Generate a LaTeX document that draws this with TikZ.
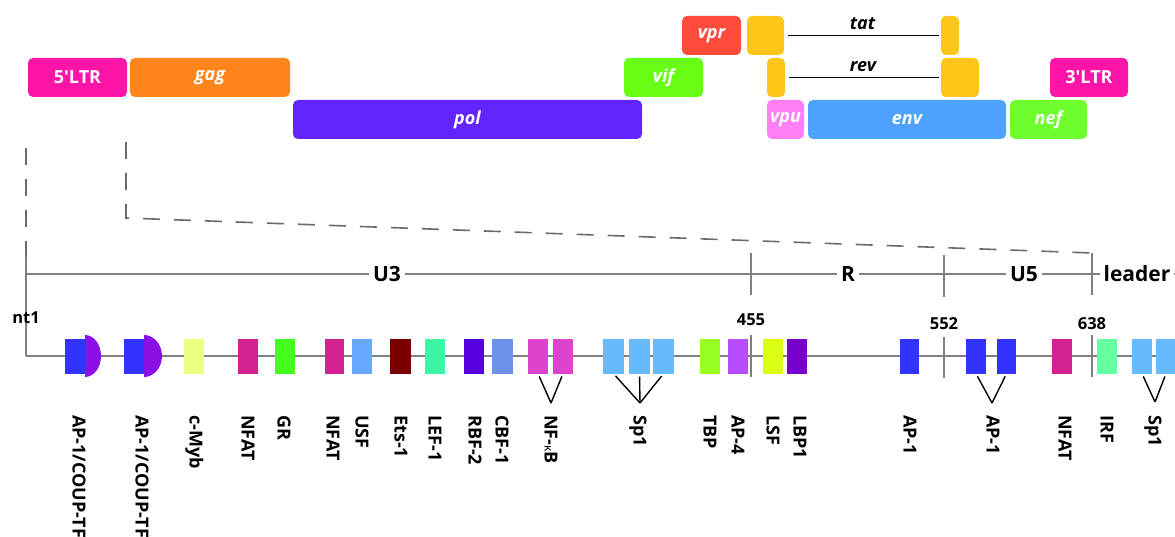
\documentclass[tikz,border=0pt]{standalone}
\usepackage{fontspec}
\setmainfont{Open Sans}
\definecolor{cLTR}{HTML}{FF14A8}
\definecolor{cgag}{HTML}{FF8419}
\definecolor{cpol}{HTML}{6325FF}
\definecolor{cvif}{HTML}{66FF13}
\definecolor{cvpr}{HTML}{FF4B3A}
\definecolor{cyel}{HTML}{FFC61A}
\definecolor{cvpu}{HTML}{FF80F5}
\definecolor{cenv}{HTML}{4DA3FF}
\definecolor{cnef}{HTML}{70FF2E}
\definecolor{cgray}{HTML}{808080}
\definecolor{cdash}{HTML}{6A6A6A}
\definecolor{tAP}{HTML}{3333FF}
\definecolor{tAPp}{HTML}{8A10E6}
\definecolor{tMyb}{HTML}{EBFF80}
\definecolor{tNFAT}{HTML}{D3228F}
\definecolor{tGR}{HTML}{44FF1A}
\definecolor{tUSF}{HTML}{66A8FF}
\definecolor{tEts}{HTML}{7A0000}
\definecolor{tLEF}{HTML}{3DF5A3}
\definecolor{tRBF}{HTML}{5500DD}
\definecolor{tCBF}{HTML}{6B91E8}
\definecolor{tNFkB}{HTML}{DD44CC}
\definecolor{tSp}{HTML}{66BBFF}
\definecolor{tTBP}{HTML}{99FF22}
\definecolor{tAPf}{HTML}{B74DFF}
\definecolor{tLSF}{HTML}{DDFF11}
\definecolor{tLBP}{HTML}{7700CC}
\definecolor{tIRF}{HTML}{66FFA0}
\newcommand\genefont{\fontsize{18}{20}\selectfont\bfseries\itshape}
\newcommand\ltrfont{\fontsize{18}{20}\selectfont\bfseries\upshape}
\newcommand\gbox[7]{\node[gene, fill=#6, minimum width={(#4)-(#2)}, minimum height={(#5)-(#3)}] (#1) at ({((#2)+(#4))/2},{((#3)+(#5))/2}) {#7};}
\newcommand\tfb[4]{\node[tf, fill=#4, minimum width={(#3)-(#2)}] (#1) at ({((#2)+(#3))/2},356) {};}
\newcommand\tfl[3]{\node[tflabel] (#1) at (#2,415) {#3};}
\begin{document}
\begin{tikzpicture}[x=1pt,y=-1pt,
  gene/.style={rounded corners=5pt, inner sep=0pt, text=white, font=\genefont},
  tf/.style={inner sep=0pt, minimum height=35pt},
  tflabel/.style={rotate=-90, anchor=west, inner sep=0pt, text height=12.9pt, text depth=0pt, font=\fontsize{18}{18}\selectfont\bfseries},
  axis/.style={cgray, line width=2pt},
  tick/.style={cgray, line width=1.8pt},
  dashline/.style={cdash, line width=1.6pt, dash pattern=on 17pt off 14pt},
  seg/.style={font=\fontsize{21}{21}\selectfont\bfseries, fill=white, inner sep=4pt},
  num/.style={font=\fontsize{16.5}{17}\selectfont\bfseries, inner sep=0pt},
  vline/.style={black, line width=1.4pt, shorten <=3pt},
  splice/.style={black, line width=1.4pt, shorten <=4pt, shorten >=2pt}
]
\useasboundingbox (0,0) rectangle (1175,537);

% ---------- genome ----------
\gbox{ltr5}{28}{58}{127}{97}{cLTR}{\ltrfont 5\textquotesingle LTR}
\gbox{gag}{130}{58}{290}{97}{cgag}{gag}
\gbox{pol}{293}{100}{642}{139}{cpol}{pol}
\gbox{vif}{624}{58}{703}{97}{cvif}{vif}
\gbox{vpr}{682}{16}{741}{55}{cvpr}{vpr}
\gbox{tatA}{747}{16}{784}{55}{cyel}{}
\gbox{tatB}{941}{16}{959}{55}{cyel}{}
\gbox{revA}{767}{58}{785}{97}{cyel}{}
\gbox{revB}{941}{58}{979}{97}{cyel}{}
\gbox{ltr3}{1050}{58}{1128}{97}{cLTR}{\ltrfont 3\textquotesingle LTR}
\gbox{vpu}{767}{100}{804}{139}{cvpu}{vpu}
\gbox{env}{808}{100}{1006}{139}{cenv}{env}
\gbox{nef}{1010}{100}{1087}{139}{cnef}{nef}
\draw[splice] (tatA.east) -- node[above=2pt, font=\genefont, text=black] (tatlbl) {tat} (tatB.west);
\draw[splice] (revA.east) -- node[above=2pt, font=\genefont, text=black] (revlbl) {rev} (revB.west);

% ---------- zoom lines ----------
\coordinate (d1a) at (26,148);
\coordinate (d1b) at (26,257);
\coordinate (d2a) at (126,142);
\coordinate (d2b) at (126,218);
\coordinate (d2c) at (1092,253);
\draw[dashline] (d1a) -- (d1b);
\draw[dashline] (d2a) -- (d2b) -- (d2c);

% ---------- LTR segment axis ----------
\coordinate (ax0) at (26,274);
\coordinate (ax1) at (1175,274);
\draw[axis] (ax0) -- (ax1);
\coordinate (t455a) at (751,253); \coordinate (t455b) at (751,295);
\coordinate (t552a) at (944,255); \coordinate (t552b) at (944,297);
\coordinate (t638b) at (1092,295);
\draw[tick] (t455a) -- (t455b);
\draw[tick] (t552a) -- (t552b);
\draw[tick] (d2c) -- (t638b);
\node[seg] (U3) at (387,274) {U3};
\node[seg] (R) at (848,274) {R};
\node[seg] (U5) at (1024,274) {U5};
\node[seg] (leader) at (1137,274) {leader};

% ---------- binding site axis ----------
\coordinate (nt1a) at (26,257);
\coordinate (bx0) at (26,356);
\coordinate (bx1) at (1175,356);
\draw[tick] (nt1a) -- (bx0);
\draw[axis] (bx0) -- (bx1);
\coordinate (b455a) at (751,335); \coordinate (b455b) at (751,377);
\coordinate (b552a) at (944,337); \coordinate (b552b) at (944,378);
\coordinate (b638a) at (1092,335); \coordinate (b638b) at (1092,377);
\draw[tick] (b455a) -- (b455b);
\draw[tick] (b552a) -- (b552b);
\draw[tick] (b638a) -- (b638b);
\node[num] (nt1) at (26,318) {nt1};
\node[num] (n455) at (751,320) {455};
\node[num] (n552) at (944,324) {552};
\node[num] (n638) at (1092,324) {638};

% AP-1/COUP-TF half ellipses
\begin{scope}
  \clip (85,330) rectangle (110,382);
  \fill[tAPp] (85,356) ellipse [x radius=16pt, y radius=21pt];
\end{scope}
\begin{scope}
  \clip (144,330) rectangle (170,382);
  \fill[tAPp] (144,356) ellipse [x radius=18pt, y radius=21pt];
\end{scope}

\tfb{ap1a}{65}{85}{tAP}
\tfb{ap1b}{124}{144}{tAP}
\tfb{cmyb}{184}{204}{tMyb}
\tfb{nfatA}{238}{258}{tNFAT}
\tfb{gr}{275}{295}{tGR}
\tfb{nfatB}{325}{344}{tNFAT}
\tfb{usf}{352}{372}{tUSF}
\tfb{ets}{390}{411}{tEts}
\tfb{lef}{425}{445}{tLEF}
\tfb{rbf}{464}{484}{tRBF}
\tfb{cbf}{492}{513}{tCBF}
\tfb{nfkbA}{528}{548}{tNFkB}
\tfb{nfkbB}{553}{573}{tNFkB}
\tfb{spA}{603}{624}{tSp}
\tfb{spB}{629}{650}{tSp}
\tfb{spC}{653}{674}{tSp}
\tfb{tbp}{700}{720}{tTBP}
\tfb{apfour}{728}{748}{tAPf}
\tfb{lsf}{763}{783}{tLSF}
\tfb{lbp}{787}{807}{tLBP}
\tfb{ap1c}{900}{919}{tAP}
\tfb{ap1d}{966}{986}{tAP}
\tfb{ap1e}{997}{1016}{tAP}
\tfb{nfatC}{1052}{1072}{tNFAT}
\tfb{irf}{1097}{1117}{tIRF}
\tfb{spD}{1132}{1152}{tSp}
\tfb{spE}{1156}{1176}{tSp}

% V connectors
\coordinate (vNF) at (551,403);
\coordinate (vSp) at (640,403);
\coordinate (vAP) at (992,403);
\coordinate (vSp2) at (1155,402);
\draw[vline] (nfkbA.south) -- (vNF);
\draw[vline] (nfkbB.south) -- (vNF);
\draw[vline] (spA.south) -- (vSp);
\draw[vline] (spB.south) -- (vSp);
\draw[vline] (spC.south) -- (vSp);
\draw[vline] (ap1d.south) -- (vAP);
\draw[vline] (ap1e.south) -- (vAP);
\draw[vline] (spD.south) -- (vSp2);
\draw[vline] (spE.south) -- (vSp2);

% labels
\tfl{lA}{79}{AP-1/COUP-TF}
\tfl{lB}{142}{AP-1/COUP-TF}
\tfl{lC}{196}{c-Myb}
\tfl{lD}{248}{NFAT}
\tfl{lE}{284}{GR}
\tfl{lF}{333}{NFAT}
\tfl{lG}{362}{USF}
\tfl{lH}{401}{Ets-1}
\tfl{lI}{435}{LEF-1}
\tfl{lJ}{475}{RBF-2}
\tfl{lK}{502}{CBF-1}
\tfl{lL}{551}{NF-{\fontsize{12}{12}\selectfont\mdseries κ}B}
\tfl{lM}{640}{Sp1}
\tfl{lN}{710}{TBP}
\tfl{lO}{738}{AP-4}
\tfl{lP}{773}{LSF}
\tfl{lQ}{800}{LBP1}
\tfl{lR}{910}{AP-1}
\tfl{lS}{993}{AP-1}
\tfl{lT}{1065}{NFAT}
\tfl{lU}{1107}{IRF}
\tfl{lV}{1155}{Sp1}
\end{tikzpicture}
\end{document}
